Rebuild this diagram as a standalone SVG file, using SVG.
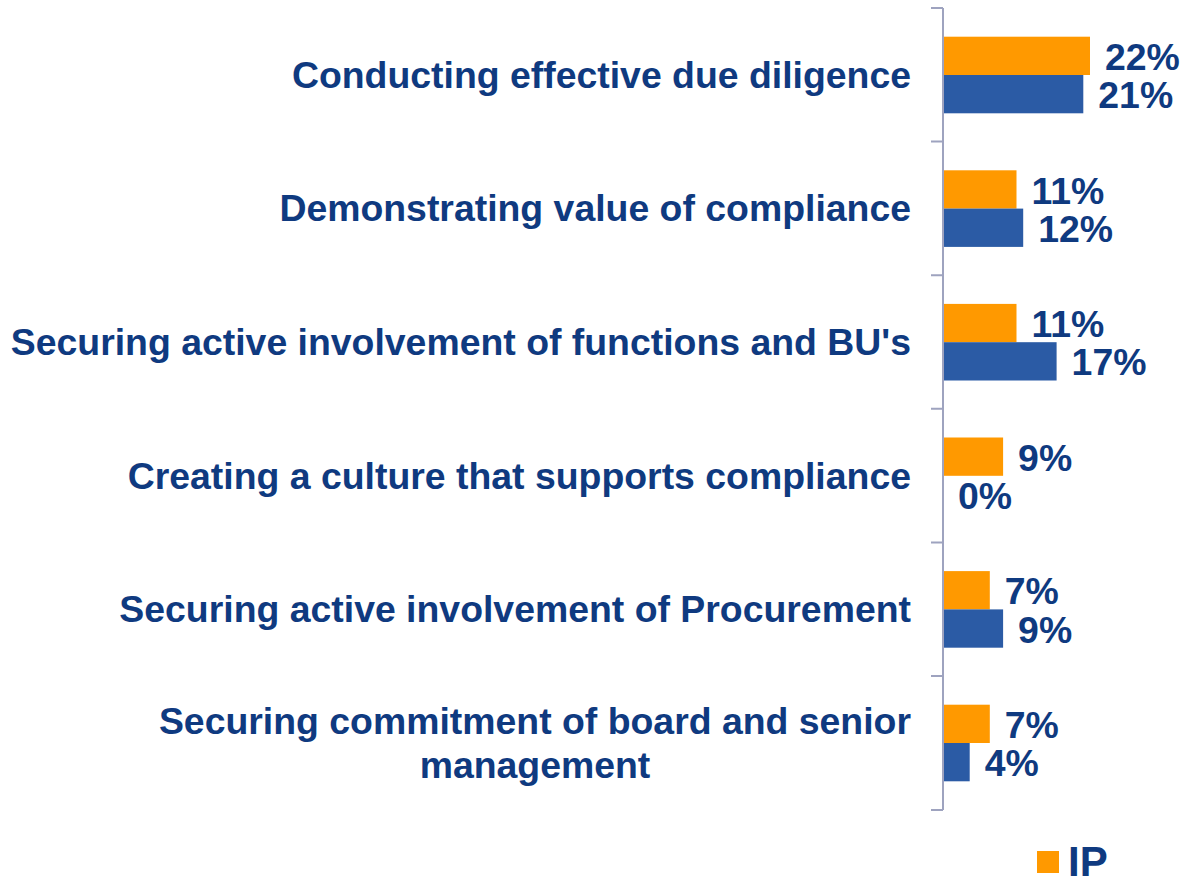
<svg xmlns="http://www.w3.org/2000/svg" width="1184" height="883" viewBox="0 0 1184 883">
<style>
.cat{font-family:"Liberation Sans",Arial,sans-serif;font-weight:bold;font-size:37.4px;fill:#0F3A80;text-anchor:end}
.val{font-family:"Liberation Sans",Arial,sans-serif;font-weight:bold;font-size:37.4px;fill:#0F3A80}
.ip{fill:#FF9900}
.bu{fill:#2B5BA5}
.ax{stroke:#9EA3BF;stroke-width:2;fill:none}
</style>
<rect width="1184" height="883" fill="#FFFFFF"/>
<g id="axis">
<path class="ax" d="M943,8V810M931,8H943M931,141.6H943M931,275.2H943M931,408.8H943M931,542.4H943M931,676H943M931,810H943"/>
</g>
<g id="row1">
<text class="cat" x="911" y="87.8">Conducting effective due diligence</text>
<rect class="ip" x="944" y="36.7" width="146" height="38.3"/>
<rect class="bu" x="944" y="75" width="139.3" height="38.3"/>
<text class="val" x="1105" y="69.9">22%</text>
<text class="val" x="1098.3" y="108.2">21%</text>
</g>
<g id="row2">
<text class="cat" x="911" y="221.4">Demonstrating value of compliance</text>
<rect class="ip" x="944" y="170.3" width="72.5" height="38.3"/>
<rect class="bu" x="944" y="208.6" width="79.2" height="38.3"/>
<text class="val" x="1031.5" y="203.5">11%</text>
<text class="val" x="1038.2" y="241.8">12%</text>
</g>
<g id="row3">
<text class="cat" x="911" y="355">Securing active involvement of functions and BU's</text>
<rect class="ip" x="944" y="303.9" width="72.5" height="38.3"/>
<rect class="bu" x="944" y="342.2" width="112.6" height="38.3"/>
<text class="val" x="1031.5" y="337.1">11%</text>
<text class="val" x="1071.6" y="375.4">17%</text>
</g>
<g id="row4">
<text class="cat" x="911" y="488.6">Creating a culture that supports compliance</text>
<rect class="ip" x="944" y="437.5" width="59.1" height="38.3"/>
<text class="val" x="1018.1" y="470.7">9%</text>
<text class="val" x="958" y="509">0%</text>
</g>
<g id="row5">
<text class="cat" x="911" y="622.2">Securing active involvement of Procurement</text>
<rect class="ip" x="944" y="571.1" width="45.8" height="38.3"/>
<rect class="bu" x="944" y="609.4" width="59.1" height="38.3"/>
<text class="val" x="1004.8" y="604.3">7%</text>
<text class="val" x="1018.1" y="642.6">9%</text>
</g>
<g id="row6">
<text class="cat" x="911" y="733.8">Securing commitment of board and senior</text>
<text class="cat" x="535" y="777.8" style="text-anchor:middle">management</text>
<rect class="ip" x="944" y="704.7" width="45.8" height="38.3"/>
<rect class="bu" x="944" y="743" width="25.7" height="38.3"/>
<text class="val" x="1004.8" y="737.9">7%</text>
<text class="val" x="984.7" y="776.2">4%</text>
</g>
<g id="legend">
<rect class="ip" x="1037" y="851" width="22" height="22"/>
<text class="val" x="1068" y="875.5" style="font-size:42px">IP</text>
</g>
</svg>
